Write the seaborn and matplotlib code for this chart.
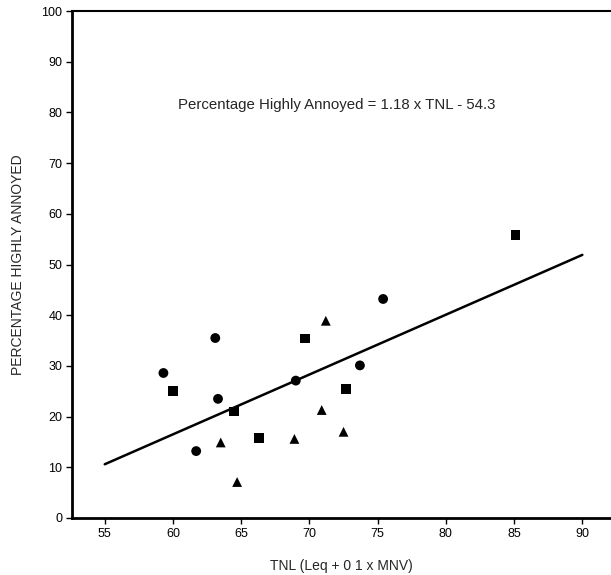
import matplotlib
matplotlib.use("Agg")
import matplotlib.pyplot as plt
import seaborn as sns
import pandas as pd
import numpy as np

# ---- data ----
circle_tnl = [59.3, 63.1, 63.3, 61.7, 69.0, 73.7, 75.4]
circle_pha = [28.6, 35.5, 23.5, 13.2, 27.1, 30.1, 43.2]
square_tnl = [60.0, 64.5, 66.3, 69.7, 72.7, 85.1]
square_pha = [25.0, 21.0, 15.7, 35.4, 25.4, 55.8]
triangle_tnl = [63.5, 64.7, 68.9, 71.2, 70.9, 72.5]
triangle_pha = [14.9, 7.1, 15.6, 38.9, 21.3, 17.0]

slope = 1.18
intercept = -54.3
line_tnl = [55, 90]

x_ticks = [55, 60, 65, 70, 75, 80, 85, 90]
y_ticks = [0, 10, 20, 30, 40, 50, 60, 70, 80, 90, 100]

df = pd.DataFrame({
    "TNL": circle_tnl + square_tnl + triangle_tnl,
    "PHA": circle_pha + square_pha + triangle_pha,
    "group": ["circle"] * len(circle_tnl) + ["square"] * len(square_tnl)
             + ["triangle"] * len(triangle_tnl),
})
line_df = pd.DataFrame({"TNL": line_tnl,
                        "PHA": [slope * x + intercept for x in line_tnl]})

sns.set_style("white")
plt.rcParams["font.family"] = ["Liberation Sans", "DejaVu Sans"]

fig = plt.figure(figsize=(6.11, 5.75), dpi=100)
ax = fig.add_axes([72 / 611, 1 - 518 / 575, 1 - 72 / 611, (518 - 11) / 575])

sns.lineplot(data=line_df, x="TNL", y="PHA", color="black", linewidth=1.8, ax=ax)
sns.scatterplot(data=df, x="TNL", y="PHA", style="group",
                markers={"circle": "o", "square": "s", "triangle": "^"},
                s=50, color="black", edgecolor="black",
                linewidth=0, legend=False, ax=ax)

ax.set_xlim(52.6, 92.1)
ax.set_ylim(0, 100)
ax.set_xticks(x_ticks)
ax.set_yticks(y_ticks)
ax.tick_params(axis="both", direction="out", length=4, width=1,
               labelsize=9, color="black", labelcolor="black",
               left=True, bottom=True, pad=3)

for side in ["left", "bottom"]:
    ax.spines[side].set_linewidth(2)
    ax.spines[side].set_color("black")
ax.spines["top"].set_linewidth(1.5)
ax.spines["top"].set_color("black")
ax.spines["right"].set_visible(False)

ax.set_xlabel("TNL (Leq + 0 1 x MNV)", fontsize=10, labelpad=14)
ax.set_ylabel("PERCENTAGE HIGHLY ANNOYED", fontsize=10, labelpad=12)

ax.text(72.0, 81.5, "Percentage Highly Annoyed = 1.18 x TNL - 54.3",
        ha="center", va="center", fontsize=10.8)

fig.savefig("out.png", dpi=100)
